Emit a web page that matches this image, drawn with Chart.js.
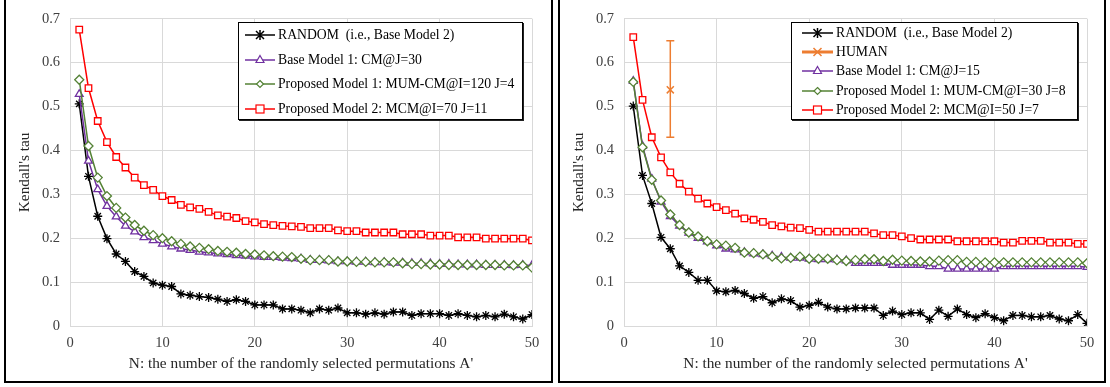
<!DOCTYPE html>
<html>
<head>
<meta charset="utf-8">
<script src="https://cdn.jsdelivr.net/npm/chart.js@4.4.1/dist/chart.umd.min.js"></script>
<style>
  html, body { margin: 0; padding: 0; background: #fff; }
  body { width: 1110px; height: 387px; position: relative; overflow: hidden; font-family: "Liberation Serif", "Times New Roman", serif; }
  .panel { position: absolute; top: -2px; height: 381px; border: 2px solid #000; background: #fff; }
  .panel canvas { position: absolute; left: 0; top: 0; }
  #panel-left { left: 4px; width: 545px; }
  #panel-right { left: 558px; width: 544px; }
  .legend { position: absolute; top: 22px; height: 96px; border: 1px solid #000; box-shadow: 1px 1px 0 #222; background: #fff; font-size: 13.7px; color: #000; z-index: 5; }
  .legend .row { display: flex; align-items: center; white-space: pre; }
  .legend svg { display: block; flex: none; }
  #legend-left { left: 238px; width: 283px; }
  #legend-right { left: 791px; width: 285px; }
</style>
</head>
<body>
<div class="panel" id="panel-left"><canvas id="chart-left" width="545" height="381"></canvas></div>
<div class="panel" id="panel-right"><canvas id="chart-right" width="544" height="381"></canvas></div>
<div class="legend" id="legend-left"></div>
<div class="legend" id="legend-right"></div>
<script>
(function () {
  "use strict";

  var N = [1, 2, 3, 4, 5, 6, 7, 8, 9, 10, 11, 12, 13, 14, 15, 16, 17, 18, 19, 20,
    21, 22, 23, 24, 25, 26, 27, 28, 29, 30, 31, 32, 33, 34, 35, 36, 37, 38, 39, 40,
    41, 42, 43, 44, 45, 46, 47, 48, 49, 50];

  // left panel
  var leftRandom = [0.506, 0.341, 0.250, 0.199, 0.164, 0.147, 0.124, 0.113, 0.098, 0.093,
    0.090, 0.073, 0.070, 0.067, 0.065, 0.061, 0.056, 0.060, 0.056, 0.048,
    0.048, 0.048, 0.039, 0.039, 0.036, 0.030, 0.039, 0.036, 0.041, 0.030,
    0.030, 0.027, 0.030, 0.027, 0.032, 0.032, 0.024, 0.028, 0.028, 0.028,
    0.024, 0.028, 0.024, 0.021, 0.024, 0.021, 0.027, 0.021, 0.016, 0.026];
  var leftBase1 = [0.528, 0.376, 0.311, 0.273, 0.249, 0.228, 0.215, 0.202, 0.195, 0.187,
    0.181, 0.176, 0.173, 0.169, 0.167, 0.165, 0.163, 0.161, 0.160, 0.158,
    0.157, 0.157, 0.155, 0.154, 0.153, 0.150, 0.150, 0.149, 0.147, 0.147,
    0.146, 0.146, 0.145, 0.145, 0.144, 0.144, 0.143, 0.143, 0.142, 0.141,
    0.141, 0.140, 0.140, 0.140, 0.139, 0.139, 0.139, 0.138, 0.139, 0.138];
  var leftProp1 = [0.561, 0.410, 0.338, 0.296, 0.269, 0.247, 0.230, 0.217, 0.207, 0.200,
    0.193, 0.187, 0.181, 0.178, 0.175, 0.171, 0.169, 0.167, 0.164, 0.163,
    0.161, 0.159, 0.158, 0.157, 0.153, 0.150, 0.150, 0.150, 0.147, 0.147,
    0.146, 0.146, 0.145, 0.145, 0.145, 0.143, 0.141, 0.141, 0.140, 0.140,
    0.139, 0.139, 0.139, 0.139, 0.139, 0.139, 0.138, 0.138, 0.138, 0.133];
  var leftProp2 = [0.675, 0.542, 0.467, 0.419, 0.385, 0.361, 0.338, 0.321, 0.310, 0.296,
    0.287, 0.276, 0.270, 0.267, 0.260, 0.252, 0.249, 0.246, 0.239, 0.236,
    0.232, 0.230, 0.228, 0.227, 0.226, 0.223, 0.223, 0.223, 0.218, 0.216,
    0.216, 0.213, 0.213, 0.213, 0.213, 0.209, 0.209, 0.209, 0.206, 0.206,
    0.206, 0.202, 0.202, 0.202, 0.199, 0.199, 0.199, 0.199, 0.199, 0.195];

  // right panel
  var rightRandom = [0.501, 0.343, 0.279, 0.202, 0.176, 0.137, 0.122, 0.104, 0.104, 0.080,
    0.078, 0.081, 0.074, 0.063, 0.067, 0.053, 0.062, 0.058, 0.043, 0.047,
    0.054, 0.043, 0.039, 0.039, 0.041, 0.041, 0.041, 0.024, 0.034, 0.026,
    0.030, 0.030, 0.015, 0.036, 0.022, 0.039, 0.026, 0.019, 0.028, 0.019,
    0.012, 0.024, 0.024, 0.021, 0.021, 0.024, 0.016, 0.012, 0.026, 0.006];
  var rightBase1 = [0.558, 0.410, 0.335, 0.283, 0.250, 0.228, 0.212, 0.200, 0.192, 0.183,
    0.176, 0.174, 0.168, 0.165, 0.163, 0.160, 0.157, 0.155, 0.155, 0.153,
    0.152, 0.152, 0.151, 0.149, 0.143, 0.143, 0.143, 0.143, 0.139, 0.139,
    0.139, 0.139, 0.136, 0.136, 0.130, 0.130, 0.130, 0.130, 0.130, 0.130,
    0.136, 0.136, 0.136, 0.136, 0.136, 0.136, 0.136, 0.136, 0.136, 0.134];
  var rightProp1 = [0.556, 0.407, 0.333, 0.286, 0.254, 0.230, 0.213, 0.204, 0.193, 0.186,
    0.183, 0.178, 0.167, 0.166, 0.163, 0.158, 0.154, 0.155, 0.158, 0.153,
    0.153, 0.153, 0.150, 0.148, 0.150, 0.152, 0.152, 0.148, 0.151, 0.149,
    0.148, 0.147, 0.147, 0.149, 0.150, 0.150, 0.146, 0.146, 0.145, 0.145,
    0.145, 0.145, 0.145, 0.145, 0.145, 0.145, 0.145, 0.145, 0.145, 0.143];
  var rightProp2 = [0.658, 0.515, 0.430, 0.384, 0.350, 0.324, 0.306, 0.290, 0.279, 0.271,
    0.264, 0.256, 0.245, 0.242, 0.237, 0.230, 0.227, 0.224, 0.223, 0.219,
    0.215, 0.215, 0.215, 0.215, 0.215, 0.215, 0.211, 0.207, 0.207, 0.204,
    0.200, 0.197, 0.197, 0.197, 0.197, 0.193, 0.193, 0.193, 0.193, 0.193,
    0.190, 0.190, 0.194, 0.194, 0.194, 0.190, 0.190, 0.190, 0.187, 0.187];

  // HUMAN: mean with error bar
  var humanN = [5];
  var humanMean = [0.538];
  var humanLow = [0.430];
  var humanHigh = [0.650];

  var leftLabels = ["RANDOM  (i.e., Base Model 2)", "Base Model 1: CM@J=30",
    "Proposed Model 1: MUM-CM@I=120 J=4", "Proposed Model 2: MCM@I=70 J=11"];
  var rightLabels = ["RANDOM  (i.e., Base Model 2)", "HUMAN", "Base Model 1: CM@J=15",
    "Proposed Model 1: MUM-CM@I=30 J=8", "Proposed Model 2: MCM@I=50 J=7"];

  var yTicks = [0, 0.1, 0.2, 0.3, 0.4, 0.5, 0.6, 0.7];
  var xTicks = [0, 10, 20, 30, 40, 50];

  var BLACK = "#000000";
  var PURPLE = "#7030a0";
  var GREEN = "#548235";
  var RED = "#ff0000";
  var ORANGE = "#ed7d31";
  var GRID = "#d9d9d9";
  var FONT = "'Liberation Serif', 'Times New Roman', serif";

  function pts(ys) { return N.map(function (n, i) { return { x: n, y: ys[i] }; }); }

  function series(label, ys, color, style, radius) {
    return {
      label: label, data: pts(ys), borderColor: color, borderWidth: 1.5,
      pointStyle: style, pointRadius: radius, pointBorderColor: color, pointBorderWidth: 1.3,
      pointBackgroundColor: "#fff", tension: 0, fill: false,
    };
  }

  function makeChart(id, datasets, rightPad) {
    datasets.forEach(function (d, i) { d.order = datasets.length - i; });
    return new Chart(document.getElementById(id), {
      type: "line",
      data: { datasets: datasets },
      options: {
        responsive: false, animation: false, devicePixelRatio: 1,
        layout: { padding: { left: 0, top: 11, right: rightPad, bottom: 0 } },
        plugins: { legend: { display: false }, tooltip: { enabled: false } },
        scales: {
          x: {
            type: "linear", min: 0, max: 50,
            afterFit: function (s) { s.height = 55; },
            afterBuildTicks: function (s) { s.ticks = xTicks.map(function (v) { return { value: v }; }); },
            grid: { color: GRID, drawTicks: false, lineWidth: 1 },
            border: { color: GRID },
            ticks: { padding: 8, color: "#404040", font: { family: FONT, size: 14.5 } },
            title: { display: true, text: "N: the number of the randomly selected permutations A'",
              color: "#262626", font: { family: FONT, size: 15.3 }, padding: { top: 0, bottom: 8 } },
          },
          y: {
            min: 0, max: 0.7,
            afterFit: function (s) { s.width = 64; },
            afterBuildTicks: function (s) { s.ticks = yTicks.map(function (v) { return { value: v }; }); },
            grid: { color: GRID, drawTicks: false, lineWidth: 1 },
            border: { color: GRID },
            ticks: { padding: 10, color: "#404040", font: { family: FONT, size: 14.5 },
              callback: function (v) { return v === 0 ? "0" : v.toFixed(1); } },
            title: { display: true, text: "Kendall's tau", color: "#262626",
              font: { family: FONT, size: 15.3 }, padding: { top: 10, bottom: 0 } },
          },
        },
      },
    });
  }

  makeChart("chart-left", [
    series(leftLabels[0], leftRandom, BLACK, "star", 4.5),
    series(leftLabels[1], leftBase1, PURPLE, "triangle", 4.5),
    series(leftLabels[2], leftProp1, GREEN, "rectRot", 4.5),
    series(leftLabels[3], leftProp2, RED, "rect", 4.6),
  ], 19);

  var humanBar = {
    label: "HUMAN error", data: [{ x: humanN[0], y: humanLow[0] }, { x: humanN[0], y: humanHigh[0] }],
    borderColor: ORANGE, borderWidth: 1.5, pointStyle: "line", pointRadius: 4,
    pointBorderColor: ORANGE, pointBorderWidth: 1.5,
  };
  var humanDot = {
    label: rightLabels[1], data: humanN.map(function (n, i) { return { x: n, y: humanMean[i] }; }),
    showLine: false, pointStyle: "crossRot", pointRadius: 5, borderColor: ORANGE,
    pointBorderColor: ORANGE, pointBorderWidth: 1.5,
  };

  makeChart("chart-right", [
    series(rightLabels[0], rightRandom, BLACK, "star", 4.5),
    humanBar, humanDot,
    series(rightLabels[2], rightBase1, PURPLE, "triangle", 4.5),
    series(rightLabels[3], rightProp1, GREEN, "rectRot", 4.5),
    series(rightLabels[4], rightProp2, RED, "rect", 4.6),
  ], 17);

  // legend symbols (inline svg)
  function symbol(kind, color, w) {
    var c = w / 2, y = 7, line = '<line x1="0" y1="7" x2="' + w + '" y2="7" stroke="' + color + '" stroke-width="' + (kind === "cross" ? 3 : 1.5) + '"/>';
    var m = "";
    var st = ' fill="#fff" stroke="' + color + '" stroke-width="1.2"';
    if (kind === "star") {
      m = '<path d="M' + (c - 4) + ' ' + (y - 4) + 'L' + (c + 4) + ' ' + (y + 4) + 'M' + (c + 4) + ' ' + (y - 4) + 'L' + (c - 4) + ' ' + (y + 4) +
        'M' + c + ' ' + (y - 5) + 'L' + c + ' ' + (y + 5) + '" stroke="' + color + '" stroke-width="1.5" fill="none"/>';
    } else if (kind === "cross") {
      m = '<path d="M' + (c - 4) + ' ' + (y - 4) + 'L' + (c + 4) + ' ' + (y + 4) + 'M' + (c + 4) + ' ' + (y - 4) + 'L' + (c - 4) + ' ' + (y + 4) +
        '" stroke="' + color + '" stroke-width="1.5" fill="none"/>';
    } else if (kind === "triangle") {
      m = '<polygon points="' + c + ',' + (y - 4.5) + ' ' + (c + 4) + ',' + (y + 2.5) + ' ' + (c - 4) + ',' + (y + 2.5) + '"' + st + '/>';
    } else if (kind === "diamond") {
      m = '<polygon points="' + c + ',' + (y - 3.5) + ' ' + (c + 3.5) + ',' + y + ' ' + c + ',' + (y + 3.5) + ' ' + (c - 3.5) + ',' + y + '"' + st + '/>';
    } else if (kind === "square") {
      m = '<rect x="' + (c - 4) + '" y="' + (y - 4) + '" width="8" height="8"' + st + '/>';
    }
    return '<svg width="' + w + '" height="14">' + line + m + '</svg>';
  }

  function legend(id, items, rowH, padTop, indent, w) {
    document.getElementById(id).innerHTML = '<div style="padding-top:' + padTop + 'px">' + items.map(function (it) {
      return '<div class="row" style="height:' + rowH + 'px"><span style="width:' + indent + 'px;flex:none"></span>' +
        symbol(it[1], it[2], w) + '<span style="margin-left:3px">' + it[0] + '</span></div>';
    }).join("") + '</div>';
  }

  legend("legend-left", [
    [leftLabels[0], "star", BLACK], [leftLabels[1], "triangle", PURPLE],
    [leftLabels[2], "diamond", GREEN], [leftLabels[3], "square", RED],
  ], 24.5, 0, 6, 30);

  legend("legend-right", [
    [rightLabels[0], "star", BLACK], [rightLabels[1], "cross", ORANGE], [rightLabels[2], "triangle", PURPLE],
    [rightLabels[3], "diamond", GREEN], [rightLabels[4], "square", RED],
  ], 19.3, 0, 10, 31);
})();
</script>
</body>
</html>
